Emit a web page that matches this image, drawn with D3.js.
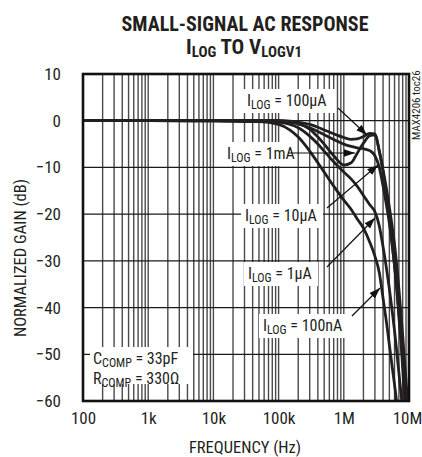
<!DOCTYPE html>
<html>
<head>
<meta charset="utf-8">
<script src="https://cdn.jsdelivr.net/npm/d3@7/dist/d3.min.js"></script>
<style>
body { margin: 0; background: #fff; }
text { font-family: "Liberation Sans Narrow", "Roboto Condensed", "Arial Narrow", sans-serif; fill: #231f20; }
</style>
</head>
<body>
<svg id="chart" width="422" height="457"></svg>
<script>
// frequency grid (Hz) shared by all curves
var freqs = [100, 1e3, 1e4, 5e4, 1e5, 1.5e5, 2e5, 3e5, 4e5, 5e5, 7e5, 1e6, 1.3e6, 1.6e6, 2e6, 2.5e6, 3e6, 3.5e6, 4e6, 4.5e6, 5e6, 5.5e6, 6e6, 6.5e6, 7e6, 7.5e6, 8e6, 8.5e6, 9e6, 9.5e6];

// normalized gain (dB) for each ILOG
var gain1mA   = [0, 0, 0, 0, 0, -0.2, -0.6, -1.8, -3.5, -5, -7.5, -9.5, -9, -7, -4.8, -3.2, -3, -6.5, -11, -16, -21, -26, -31, -36, -42, -47, -53, -59, -64, -70];
var gain100uA = [0, 0, 0, 0, 0, -0.1, -0.3, -0.8, -1.4, -2, -2.8, -3.6, -4, -3.9, -3.4, -2.7, -2.8, -6.5, -10.5, -14.5, -18.5, -22.5, -26.5, -31, -36, -41, -46, -51, -55.5, -60.5];
var gain10uA  = [0, 0, 0, 0, -0.1, -0.3, -0.7, -1.5, -2.3, -3, -4, -5, -5.5, -5.8, -6, -6.4, -7.5, -10, -14, -18, -22, -26.5, -31, -36, -41, -46, -51, -56, -60.5, -65];
var gain1uA   = [0, 0, 0, 0, -0.3, -0.8, -1.5, -3.3, -5, -6.5, -8.8, -11, -12.5, -14, -16, -18, -19.5, -22.5, -27, -31.5, -36, -40.5, -45, -49.5, -54, -58, -62, -66, -70, -74];
var gain100nA = [0, 0, -0.1, -0.2, -0.8, -2, -3.5, -6.5, -9, -11, -14, -17, -19, -21, -23, -26, -29, -32.5, -38, -43, -48, -52.5, -56.5, -60.5, -65, -69, -73, -77, -81, -85];

var series = [gain100nA, gain1uA, gain10uA, gain100uA, gain1mA];

var xTickValues = [100, 1e3, 1e4, 1e5, 1e6, 1e7];
var xTickLabels = ["100", "1k", "10k", "100k", "1M", "10M"];
var yTickValues = [10, 0, -10, -20, -30, -40, -50, -60];

var svg = d3.select("#chart");
var margin = { top: 74, right: 13, bottom: 56, left: 83 };
var width = 422 - margin.left - margin.right,
    height = 457 - margin.top - margin.bottom;

var x = d3.scaleLog().domain([100, 1e7]).range([margin.left, margin.left + width]);
var y = d3.scaleLinear().domain([-60, 10]).range([margin.top + height, margin.top]);

// title
var title = svg.append("g").attr("font-weight", "bold").attr("text-anchor", "middle");
title.append("text")
  .attr("x", 245).attr("y", 31)
  .attr("font-size", 21)
  .attr("textLength", 247)
  .attr("lengthAdjust", "spacingAndGlyphs")
  .text("SMALL-SIGNAL AC RESPONSE");
var t2 = title.append("text").attr("x", 244).attr("y", 54).attr("font-size", 21);
t2.append("tspan").text("I");
t2.append("tspan").attr("font-size", 15).attr("dy", 3).text("LOG");
t2.append("tspan").attr("dy", -3).text(" TO V");
t2.append("tspan").attr("font-size", 15).attr("dy", 3).text("LOGV1");

// grid
var grid = svg.append("g");
grid.selectAll("line.v")
  .data(x.ticks().filter(function(d) { return d > 100 && d < 1e7; }))
  .enter().append("line")
  .attr("x1", function(d) { return x(d); })
  .attr("x2", function(d) { return x(d); })
  .attr("y1", y(10)).attr("y2", y(-60))
  .attr("stroke", "#4a4a4a")
  .attr("stroke-width", 1.4);
grid.selectAll("line.h")
  .data(yTickValues.slice(1, -1))
  .enter().append("line")
  .attr("x1", x(100)).attr("x2", x(1e7))
  .attr("y1", function(d) { return y(d); })
  .attr("y2", function(d) { return y(d); })
  .attr("stroke", "#1a1a1a")
  .attr("stroke-width", 1.2);

// label boxes (white, cover the grid)
var labels = [
  { t: "100μA", x: 247, y: 106, w: 92 },
  { t: "1mA",   x: 227, y: 159, w: 62 },
  { t: "10μA",  x: 245, y: 221, w: 82 },
  { t: "1μA",   x: 248, y: 279, w: 74 },
  { t: "100nA", x: 263, y: 331, w: 88 }
];
svg.append("g").selectAll("rect")
  .data(labels).enter().append("rect")
  .attr("x", function(d) { return d.x - 4; })
  .attr("y", function(d) { return d.y - 17; })
  .attr("width", function(d) { return d.w; })
  .attr("height", 24)
  .attr("fill", "#fff");
svg.append("rect").attr("x", 90).attr("y", 347).attr("width", 103).attr("height", 37).attr("fill", "#fff");

// curves
svg.append("clipPath").attr("id", "plotClip")
  .append("rect").attr("x", x(100)).attr("y", y(10)).attr("width", width).attr("height", height);

var line = d3.line()
  .x(function(d, i) { return x(freqs[i]); })
  .y(function(d) { return y(d); })
  .curve(d3.curveMonotoneX);

svg.append("g").attr("clip-path", "url(#plotClip)")
  .selectAll("path").data(series).enter().append("path")
  .attr("d", line)
  .attr("fill", "none")
  .attr("stroke", "#231f20")
  .attr("stroke-width", 2.8)
  .attr("stroke-linejoin", "round");

// frame
svg.append("rect")
  .attr("x", x(100)).attr("y", y(10))
  .attr("width", width).attr("height", height)
  .attr("fill", "none").attr("stroke", "#111").attr("stroke-width", 2.6);

// axes
var xAxis = svg.append("g")
  .attr("transform", "translate(0," + (y(-60) + 8) + ")")
  .call(d3.axisBottom(x).tickValues(xTickValues).tickSize(0)
    .tickFormat(function(d, i) { return xTickLabels[i]; }));
xAxis.select(".domain").remove();
xAxis.selectAll("text").attr("font-size", 17).attr("font-family", null).attr("fill", "#231f20");
// last label sits against the page edge
xAxis.selectAll("text").filter(function(d) { return d === 1e7; }).attr("dx", -2).attr("text-anchor", "middle");

var yAxis = svg.append("g")
  .attr("transform", "translate(" + (x(100) - 19) + ",0)")
  .call(d3.axisLeft(y).tickValues(yTickValues).tickSize(0));
yAxis.select(".domain").remove();
yAxis.selectAll("text").attr("font-size", 17).attr("font-family", null).attr("fill", "#231f20");

svg.append("text")
  .attr("x", 245).attr("y", 453)
  .attr("text-anchor", "middle").attr("font-size", 16.5)
  .text("FREQUENCY (Hz)");
svg.append("text")
  .attr("transform", "translate(26,258) rotate(-90)")
  .attr("text-anchor", "middle").attr("font-size", 16.5)
  .text("NORMALIZED GAIN (dB)");
svg.append("text")
  .attr("transform", "translate(420,140) rotate(-90)")
  .attr("font-size", 11).attr("fill", "#444")
  .text("MAX4206 toc26");

// label text
var lt = svg.append("g").selectAll("text").data(labels).enter().append("text")
  .attr("x", function(d) { return d.x; })
  .attr("y", function(d) { return d.y; })
  .attr("font-size", 16);
lt.append("tspan").text("I");
lt.append("tspan").attr("font-size", 12).attr("dy", 3).text("LOG");
lt.append("tspan").attr("dy", -3).text(function(d) { return " = " + d.t; });

var comp = svg.append("g").attr("font-size", 16);
var c1 = comp.append("text").attr("x", 93).attr("y", 364);
c1.append("tspan").text("C");
c1.append("tspan").attr("font-size", 12).attr("dy", 3).text("COMP");
c1.append("tspan").attr("dy", -3).text(" = 33pF");
var c2 = comp.append("text").attr("x", 93).attr("y", 384);
c2.append("tspan").text("R");
c2.append("tspan").attr("font-size", 12).attr("dy", 3).text("COMP");
c2.append("tspan").attr("dy", -3).text(" = 330Ω");

// arrows
svg.append("defs").append("marker")
  .attr("id", "arrow").attr("viewBox", "0 0 10 10")
  .attr("refX", 10).attr("refY", 5)
  .attr("markerWidth", 11).attr("markerHeight", 11)
  .attr("markerUnits", "userSpaceOnUse")
  .attr("orient", "auto")
  .append("path").attr("d", "M0,1.5L10,5L0,8.5Z").attr("fill", "#111");

var arrows = [
  [338, 108, 367, 135],
  [288, 153, 355, 153],
  [327, 208, 378, 165],
  [327, 267, 375, 218],
  [352, 316, 380, 288]
];
svg.append("g").selectAll("line").data(arrows).enter().append("line")
  .attr("x1", function(d) { return d[0]; })
  .attr("y1", function(d) { return d[1]; })
  .attr("x2", function(d) { return d[2]; })
  .attr("y2", function(d) { return d[3]; })
  .attr("stroke", "#111").attr("stroke-width", 1.2)
  .attr("marker-end", "url(#arrow)");
</script>
</body>
</html>
